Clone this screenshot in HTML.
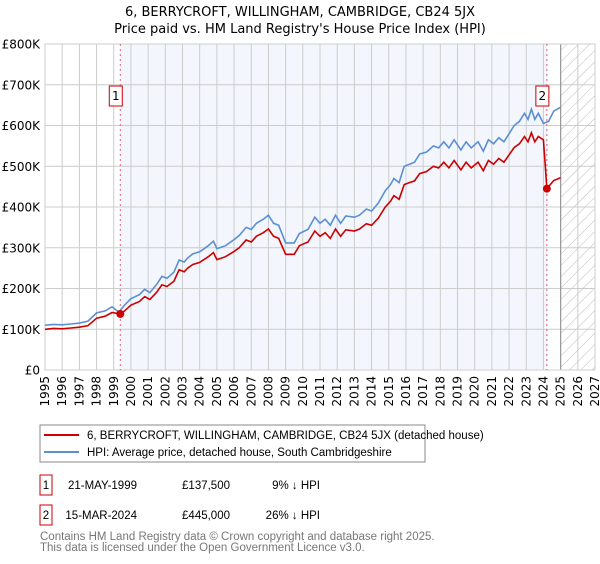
<!DOCTYPE html>
<html><head><meta charset="utf-8"><style>
body{margin:0;background:#fff;font-family:"DejaVu Sans","Liberation Sans",sans-serif;}
svg text{font-family:"DejaVu Sans","Liberation Sans",sans-serif;}
svg text.ls{font-family:"Liberation Sans","DejaVu Sans",sans-serif;}
</style></head><body>
<svg id="c" width="600" height="560" viewBox="0 0 600 560">
<defs><pattern id="hatch" width="8" height="8" patternUnits="userSpaceOnUse" patternTransform="rotate(45)"><line x1="0" y1="0" x2="0" y2="8" stroke="#bbb" stroke-width="1"/></pattern></defs>
<text x="300" y="16" text-anchor="middle" font-size="13">6, BERRYCROFT, WILLINGHAM, CAMBRIDGE, CB24 5JX</text>
<text x="300" y="33" text-anchor="middle" font-size="13">Price paid vs. HM Land Registry's House Price Index (HPI)</text>
<g id="plot"></g>
<g>
<rect x="40" y="425" width="385" height="37" fill="#fff" stroke="#888"/>
<line x1="44" y1="435" x2="79" y2="435" stroke="#cc0000" stroke-width="2"/>
<text class="ls" x="87" y="439" font-size="11.5">6, BERRYCROFT, WILLINGHAM, CAMBRIDGE, CB24 5JX (detached house)</text>
<line x1="44" y1="452" x2="79" y2="452" stroke="#5b8fd4" stroke-width="2"/>
<text class="ls" x="87" y="456" font-size="11.5">HPI: Average price, detached house, South Cambridgeshire</text>
</g>
<g font-size="11.5">
<rect x="40" y="475" width="12" height="20" fill="#fff" stroke="#cc0000"/>
<text class="ls" x="46" y="489" text-anchor="middle">1</text>
<text class="ls" x="137" y="489" text-anchor="end">21-MAY-1999</text>
<text class="ls" x="230" y="489" text-anchor="end">£137,500</text>
<text class="ls" x="320" y="489" text-anchor="end">9% ↓ HPI</text>
<rect x="40" y="505" width="12" height="20" fill="#fff" stroke="#cc0000"/>
<text class="ls" x="46" y="519" text-anchor="middle">2</text>
<text class="ls" x="137" y="519" text-anchor="end">15-MAR-2024</text>
<text class="ls" x="230" y="519" text-anchor="end">£445,000</text>
<text class="ls" x="320" y="519" text-anchor="end">26% ↓ HPI</text>
</g>
<text class="ls" x="40" y="540" font-size="11.5" fill="#777">Contains HM Land Registry data © Crown copyright and database right 2025.</text>
<text class="ls" x="40" y="551" font-size="11.5" fill="#777">This data is licensed under the Open Government Licence v3.0.</text>
</svg>
<script>
const hpiYears=[1995,1995.5,1996,1996.5,1997,1997.5,1998,1998.5,1998.9,1999.3,1999.6,2000,2000.5,2000.8,2001.1,2001.5,2001.8,2002.1,2002.5,2002.8,2003.1,2003.3,2003.6,2004,2004.5,2004.8,2005,2005.5,2006,2006.3,2006.7,2007,2007.3,2007.7,2008,2008.3,2008.6,2009,2009.5,2009.8,2010.3,2010.7,2011,2011.3,2011.6,2011.9,2012.2,2012.5,2013,2013.3,2013.7,2014,2014.4,2014.8,2015.1,2015.3,2015.6,2015.9,2016.2,2016.5,2016.8,2017.2,2017.6,2017.9,2018.2,2018.5,2018.8,2019.2,2019.5,2019.8,2020.2,2020.5,2020.8,2021.1,2021.4,2021.7,2022,2022.3,2022.6,2022.9,2023.1,2023.3,2023.5,2023.7,2024,2024.3,2024.6,2025];
const hpiValues=[110,112,111,113,115,120,140,145,155,142,158,175,185,198,190,210,230,225,240,270,265,275,285,290,305,316,298,305,320,330,350,345,360,370,380,360,355,312,312,335,345,375,360,370,355,380,360,378,375,380,395,390,410,440,455,470,460,500,505,510,530,535,550,545,560,545,565,540,560,545,560,537,565,555,570,560,580,600,610,630,615,640,615,630,605,610,635,645];
const priceYears=[1995,1995.5,1996,1996.5,1997,1997.5,1998,1998.5,1998.9,1999.38,1999.6,2000,2000.5,2000.8,2001.1,2001.5,2001.8,2002.1,2002.5,2002.8,2003.1,2003.3,2003.6,2004,2004.5,2004.8,2005,2005.5,2006,2006.3,2006.7,2007,2007.3,2007.7,2008,2008.3,2008.6,2009,2009.5,2009.8,2010.3,2010.7,2011,2011.3,2011.6,2011.9,2012.2,2012.5,2013,2013.3,2013.7,2014,2014.4,2014.8,2015.1,2015.3,2015.6,2015.9,2016.2,2016.5,2016.8,2017.2,2017.6,2017.9,2018.2,2018.5,2018.8,2019.2,2019.5,2019.8,2020.2,2020.5,2020.8,2021.1,2021.4,2021.7,2022,2022.3,2022.6,2022.9,2023.1,2023.3,2023.5,2023.7,2024,2024.2,2024.3,2024.6,2025];
const priceValues=[100,102,101,103,105,109,127,132,141,137.5,144,159,168,180,173,191,209,205,218,246,241,250,259,264,278,288,271,278,291,300,319,314,328,337,346,328,323,284,284,305,314,341,328,337,323,346,328,344,341,346,359,355,373,400,414,428,419,455,460,464,482,487,500,496,510,496,514,491,510,496,510,489,514,505,519,510,528,546,555,573,560,582,560,573,565,445,450,465,472];
const saleYears=[1999.38,2024.2];
const saleValues=[137.5,445];
const saleLabels=["1","2"];
const yTicks=[0,100,200,300,400,500,600,700,800];
const yTickLabels=["£0","£100K","£200K","£300K","£400K","£500K","£600K","£700K","£800K"];
const xTicks=[1995,1996,1997,1998,1999,2000,2001,2002,2003,2004,2005,2006,2007,2008,2009,2010,2011,2012,2013,2014,2015,2016,2017,2018,2019,2020,2021,2022,2023,2024,2025,2026,2027];
const dataEnd=2025;

const X0=45,X1=595,Y0=370,Y1=44;
const xs=y=>X0+(y-1995)/(2027-1995)*(X1-X0);
const ys=v=>Y0-v/800*(Y0-Y1);
const NS="http://www.w3.org/2000/svg";
const g=document.getElementById('plot');
function mk(t,a,p){const e=document.createElementNS(NS,t);for(const k in a)e.setAttribute(k,a[k]);(p||g).appendChild(e);return e;}
let e=mk('rect',{x:xs(saleYears[0]),y:Y1,width:xs(saleYears[1])-xs(saleYears[0]),height:Y0-Y1,fill:'#eef3fc',opacity:0.7});


e=mk('rect',{x:xs(dataEnd),y:Y1,width:X1-xs(dataEnd),height:Y0-Y1,fill:'url(#hatch)'});


xTicks.forEach(t=>{
 e=mk('line',{x1:xs(t),x2:xs(t),y1:Y1,y2:Y0,stroke:'#ccc','stroke-width':1});
 
 
 const tx=mk('text',{x:0,y:0,'font-size':12,'text-anchor':'end',transform:`translate(${xs(t)+4},${Y0+6}) rotate(-90)`});
 tx.textContent=t;
 
 
});
yTicks.forEach((t,i)=>{
 e=mk('line',{x1:X0,x2:X1,y1:ys(t),y2:ys(t),stroke:'#ccc','stroke-width':1});
 
 
 const tx=mk('text',{x:X0-5,y:ys(t)+4.5,'font-size':12,'text-anchor':'end'});
 tx.textContent=yTickLabels[i];
 
 
});
e=mk('line',{x1:xs(dataEnd),x2:xs(dataEnd),y1:Y1,y2:Y0,stroke:'#999','stroke-width':1.2});


e=mk('rect',{x:X0,y:Y1,width:X1-X0,height:Y0-Y1,fill:'none',stroke:'#ccc'});


saleYears.forEach((s,i)=>{
 e=mk('line',{x1:xs(s),x2:xs(s),y1:Y1,y2:Y0,stroke:'#e06070','stroke-width':1,'stroke-dasharray':'2,3'});
 
 
});
function pts(a,b){return a.map((y,i)=>xs(y).toFixed(1)+','+ys(b[i]).toFixed(1)).join(' ');}
e=mk('polyline',{points:pts(hpiYears,hpiValues),fill:'none',stroke:'#5b8fd4','stroke-width':1.6});


e=mk('polyline',{points:pts(priceYears,priceValues),fill:'none',stroke:'#cc0000','stroke-width':1.6});


saleYears.forEach((s,i)=>{
 e=mk('circle',{cx:xs(s),cy:ys(saleValues[i]),r:4,fill:'#cc0000'});
 
 
 const bx=xs(s)-6;
 e=mk('rect',{x:bx-5,y:86,width:13,height:20,fill:'#fff',stroke:'#cc0000'});
 
 
 const tx=mk('text',{x:bx+1.5,y:100,'font-size':12,'text-anchor':'middle'});
 tx.textContent=saleLabels[i];
 
 
});
</script>
</body></html>
